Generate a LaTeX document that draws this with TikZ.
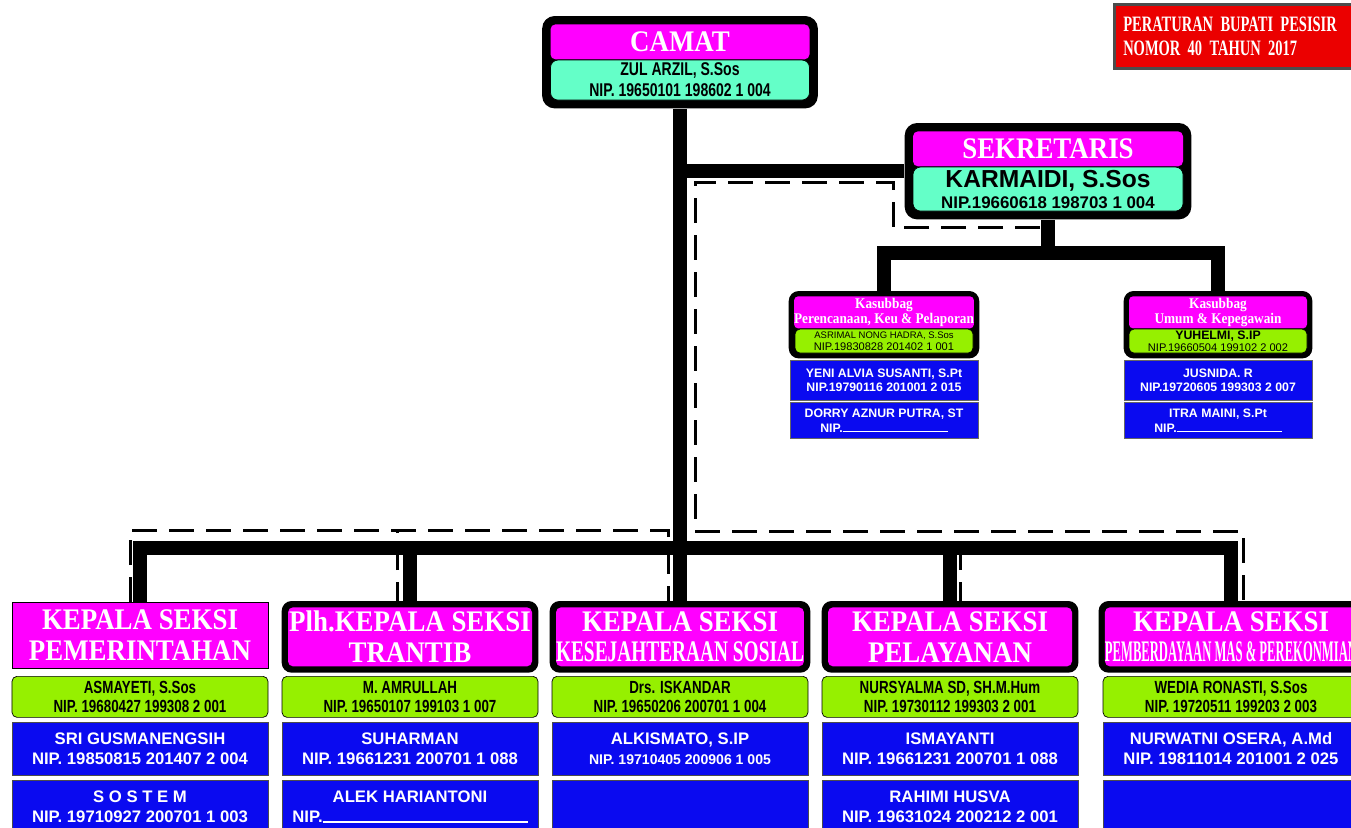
\documentclass[tikz,border=0pt]{standalone}
\usepackage{fontspec}
\setmainfont{Liberation Sans}
\newfontfamily\headfont[FakeStretch=0.9]{Liberation Serif}
\newfontfamily\narrowfont[FakeStretch=0.76]{Liberation Sans}
\newfontfamily\perbupfont[FakeStretch=0.66]{Liberation Serif}
\usepackage{graphicx}
\usetikzlibrary{positioning,calc,fit,backgrounds}
\definecolor{mag}{RGB}{255,0,255}
\definecolor{aqua}{RGB}{100,255,200}
\definecolor{leaf}{RGB}{150,240,0}
\definecolor{staff}{RGB}{10,10,240}
\definecolor{perbup}{RGB}{235,0,0}
\tikzset{
  frame/.style={fill=black,rounded corners=2.5mm,inner sep=1.6mm},
  bighead/.style={anchor=north,fill=mag,text=white,rounded corners=1mm,inner sep=0pt,align=center,
    font=\headfont\bfseries\fontsize{17}{18}\selectfont},
  bigname/.style={fill=aqua,draw=black,rounded corners=1.5mm,inner sep=0pt,align=center},
  khead/.style={anchor=north,fill=mag,text=white,rounded corners=0.8mm,inner sep=0pt,align=center,
    minimum width=35.6mm,minimum height=6.4mm,font=\headfont\bfseries\fontsize{8.4}{8.6}\selectfont},
  kname/.style={fill=leaf,draw=black,rounded corners=1mm,inner sep=0pt,align=center,
    minimum width=35.6mm,minimum height=4.8mm,font=\fontsize{6.3}{6.6}\selectfont},
  kstaff/.style={anchor=north,fill=staff,draw=black!60,text=white,inner sep=0pt,align=center,
    minimum width=37.6mm,minimum height=8mm,font=\bfseries\fontsize{7}{8.4}\selectfont},
  seksihead/.style={anchor=north,fill=mag,text=white,inner sep=0pt,align=center,
    font=\headfont\bfseries\fontsize{17}{17.5}\selectfont},
  plainhd/.style={seksihead,draw=black,minimum width=51.2mm,minimum height=13.2mm},
  framehd/.style={seksihead,rounded corners=1mm,yshift=-1mm,minimum width=48.8mm,minimum height=11.8mm},
  sname/.style={anchor=north,fill=leaf,draw=black,rounded corners=1mm,inner sep=0pt,align=center,
    minimum width=51.2mm,minimum height=8.2mm,font=\narrowfont\bfseries\fontsize{10}{10.8}\selectfont},
  sstaff/.style={anchor=north,fill=staff,draw=black!70,text=white,inner sep=0pt,align=center,
    minimum width=51.2mm,minimum height=10.6mm,font=\bfseries\fontsize{9.5}{11.5}\selectfont},
  perbup/.style={fill=perbup,draw=black!70,line width=0.5mm,text=white,text width=48mm,
    inner xsep=1.8mm,inner ysep=0pt,minimum height=12.8mm,align=left,
    font=\perbupfont\bfseries\fontsize{12.5}{14}\selectfont},
  bar/.style={line width=2.8mm},
  coord/.style={line width=0.6mm,dash pattern=on 5mm off 2.4mm},
}
\newcommand{\squeeze}[2]{\scalebox{#1}[1]{#2}}

\begin{document}
\begin{tikzpicture}[x=0.2mm,y=-0.2mm]
\useasboundingbox (0,0) rectangle (1351,828);
% camat, sekretaris
\node[bighead,minimum width=51.8mm,minimum height=7mm] (camatH) at (680,24) {CAMAT};
\node[bigname,below=0pt of camatH,minimum width=51.8mm,minimum height=8mm,
  font=\narrowfont\bfseries\fontsize{10.5}{12}\selectfont] (camatN) {ZUL ARZIL, S.Sos\\NIP. 19650101 198602 1 004};
\node[bighead,minimum width=54mm,minimum height=7mm] (sekH) at (1048,131) {SEKRETARIS};
\node[bigname,below=0pt of sekH,minimum width=54mm,minimum height=8.8mm,font=\bfseries] (sekN)
  {{\fontsize{14}{14}\selectfont KARMAIDI, S.Sos}\\{\fontsize{9.6}{10}\selectfont NIP.19660618 198703 1 004}};
\node[perbup,anchor=north west] (perbup) at (1113,3) {PERATURAN BUPATI PESISIR\\NOMOR 40 TAHUN 2017};
% kasubbag
\foreach \k/\x/\hd/\nm/\sa/\sb in {
  1/884/{Kasubbag\\Perencanaan, Keu \& Pelaporan}/{{\fontsize{5.4}{6}\selectfont ASRIMAL NONG HADRA, S.Sos}\\NIP.19830828 201402 1 001}/{YENI ALVIA SUSANTI, S.Pt\\NIP.19790116 201001 2 015}/{DORRY AZNUR PUTRA, ST\\NIP.\rule{21mm}{0.2mm}},
  2/1218/{Kasubbag\\Umum \& Kepegawain}/{{\bfseries\fontsize{7}{7}\selectfont YUHELMI, S.IP}\\NIP.19660504 199102 2 002}/{JUSNIDA. R\\NIP.19720605 199303 2 007}/{ITRA MAINI, S.Pt\\NIP.\rule{21mm}{0.2mm}}}{
  \node[khead] (kh\k) at (\x,296) {\hd};
  \node[kname,below=0pt of kh\k] (kn\k) {\nm};
  \node[kstaff] (ka\k) at (\x,360) {\sa};
  \node[kstaff,minimum height=7.2mm] (kb\k) at (\x,402) {\sb};
}
% kepala seksi
\foreach \i/\x/\hs/\hd/\nm/\sa/\sb in {
  1/140/plainhd/{KEPALA SEKSI\\PEMERINTAHAN}/{ASMAYETI, S.Sos\\NIP. 19680427 199308 2 001}/{SRI GUSMANENGSIH\\NIP. 19850815 201407 2 004}/{S O S T E M\\NIP. 19710927 200701 1 003},
  2/410/framehd/{Plh.KEPALA SEKSI\\TRANTIB}/{M. AMRULLAH\\NIP. 19650107 199103 1 007}/{SUHARMAN\\NIP. 19661231 200701 1 088}/{ALEK HARIANTONI\\NIP.\rule{41mm}{0.3mm}},
  3/680/framehd/{KEPALA SEKSI\\\squeeze{0.72}{KESEJAHTERAAN SOSIAL}}/{Drs. ISKANDAR\\NIP. 19650206 200701 1 004}/{ALKISMATO, S.IP\\{\fontsize{8}{9}\selectfont NIP. 19710405 200906 1 005}}/{},
  4/950/framehd/{KEPALA SEKSI\\PELAYANAN}/{NURSYALMA SD, SH.M.Hum\\NIP. 19730112 199303 2 001}/{ISMAYANTI\\NIP. 19661231 200701 1 088}/{RAHIMI HUSVA\\NIP. 19631024 200212 2 001},
  5/1231/framehd/{KEPALA SEKSI\\\squeeze{0.47}{PEMBERDAYAAN MAS \& PEREKONMIAN}}/{WEDIA RONASTI, S.Sos\\NIP. 19720511 199203 2 003}/{NURWATNI OSERA, A.Md\\NIP. 19811014 201001 2 025}/{}}{
  \node[\hs] (h\i) at (\x,602) {\hd};
  \node[sname] (n\i) at (\x,676) {\nm};
  \node[sstaff] (a\i) at (\x,722) {\sa};
  \node[sstaff] (b\i) at (\x,780) {\sb};
}
\begin{scope}[on background layer]
  \node[frame,fit=(camatH)(camatN)] (camat) {};
  \node[frame,fit=(sekH)(sekN)] (sek) {};
  \foreach \k in {1,2} \node[frame,inner sep=1mm,rounded corners=2mm,fit=(kh\k)(kn\k)] (k\k) {};
  \foreach \i in {2,...,5} \node[frame,inner sep=1.2mm,rounded corners=2mm,fit=(h\i)] (f\i) {};
\end{scope}
% garis komando
\coordinate (busK) at (1048,253);
\coordinate (busS) at (680,548);
\draw[bar] (camat.south) -- (h3.north);
\draw[bar] (sek.west) -- (sek.west -| camat.south);
\draw[bar] (sek.south) -- (busK);
\draw[bar] (k1.north) |- (busK) -| (k2.north);
\draw[bar] (h1.north) |- (busS) -| (h5.north);
\foreach \i in {2,4} \draw[bar] (h\i.north) -- (h\i.north |- busS);
% garis koordinasi
\coordinate (dk) at (893,182);
\coordinate (dv) at (695,531);
\coordinate (dl) at (0,530);
\draw[coord] ($(sek.south)+(-8,8)$) -| (dk) -| (dv) -| ($(h5.north)+(12,0)$);
\draw[coord] ($(h4.north)+(10,0)$) -- ($(h4.north|-dv)+(10,0)$);
\draw[coord] ($(h1.north)+(-10,0)$) |- ($(h3.north|-dl)+(-12,0)$) -- ($(h3.north)+(-12,0)$);
\draw[coord] ($(h2.north)+(-13,0)$) -- ($(h2.north|-dl)+(-13,0)$);
\end{tikzpicture}
\end{document}
